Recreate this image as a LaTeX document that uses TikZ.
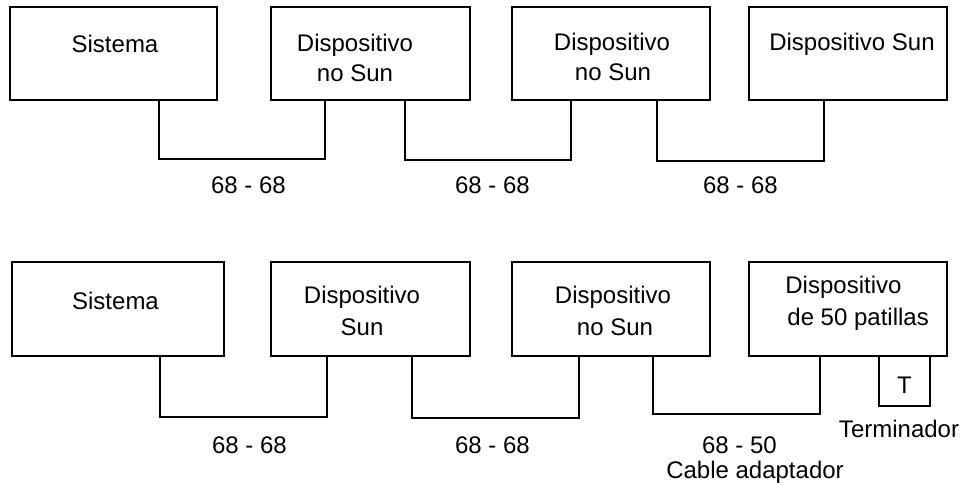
\documentclass[tikz,border=0pt]{standalone}
\usepackage{fontspec}
\setmainfont{Liberation Sans}
\begin{document}
\begin{tikzpicture}[x=0.5pt,y=-0.5pt,
  box/.style={draw,line width=0.75pt,rectangle,inner sep=0pt,outer sep=0pt,minimum height=46.5pt},
  lbl/.style={font=\fontsize{12}{14}\selectfont,inner sep=0pt,anchor=base},
  cable/.style={line width=0.75pt}]
\useasboundingbox (0,0) rectangle (973,486);
% top row boxes
\node[box,minimum width=103.5pt] (t1) at (113.5,53.5) {};
\node[box,minimum width=99.5pt] (t2) at (370.5,53.5) {};
\node[box,minimum width=99pt] (t3) at (611,53.5) {};
\node[box,minimum width=99pt] (t4) at (848,53.5) {};
% top row texts
\node[lbl] (t1a) at (115,53) {Sistema};
\node[lbl] (t2a) at (355,51.5) {Dispositivo};
\node[lbl] (t2b) at (355,81.5) {no Sun};
\node[lbl] (t3a) at (612,51) {Dispositivo};
\node[lbl] (t3b) at (613,81) {no Sun};
\node[lbl] (t4a) at (852,51) {Dispositivo Sun};
% top connectors
\coordinate (tx1) at (159,0);
\coordinate (tx2) at (325,0);
\coordinate (tx3) at (405,0);
\coordinate (tx4) at (571,0);
\coordinate (tx5) at (657,0);
\coordinate (tx6) at (824,0);
\draw[cable] (t1.south -| tx1) -- ++(0,59) -| (t2.south -| tx2);
\draw[cable] (t2.south -| tx3) -- ++(0,60) -| (t3.south -| tx4);
\draw[cable] (t3.south -| tx5) -- ++(0,61) -| (t4.south -| tx6);
\node[lbl] (tl1) at (248.5,193) {68 - 68};
\node[lbl] (tl2) at (492.5,193) {68 - 68};
\node[lbl] (tl3) at (740.5,193) {68 - 68};
% bottom row boxes
\node[box,minimum width=106pt,minimum height=47pt] (b1) at (118,309) {};
\node[box,minimum width=99.5pt,minimum height=47pt] (b2) at (370.5,309) {};
\node[box,minimum width=99pt,minimum height=47pt] (b3) at (611,309) {};
\node[box,minimum width=99pt,minimum height=47pt] (b4) at (848,309) {};
\node[box,minimum width=25.5pt,minimum height=25pt,anchor=north] (term) at (904.5,356) {};
% bottom texts
\node[lbl] (b1a) at (115.5,309) {Sistema};
\node[lbl] (b2a) at (362,303) {Dispositivo};
\node[lbl] (b2b) at (362,335) {Sun};
\node[lbl] (b3a) at (613,303) {Dispositivo};
\node[lbl] (b3b) at (615,335) {no Sun};
\node[lbl,anchor=base west] (b4a) at (785,293) {Dispositivo};
\node[lbl,anchor=base west] (b4b) at (787,325) {de 50 patillas};
\node[lbl] (tt) at (904.5,393) {T};
% bottom connectors
\coordinate (bx1) at (160,0);
\coordinate (bx2) at (327,0);
\coordinate (bx3) at (412,0);
\coordinate (bx4) at (579,0);
\coordinate (bx5) at (653,0);
\coordinate (bx6) at (820,0);
\draw[cable] (b1.south -| bx1) -- ++(0,61) -| (b2.south -| bx2);
\draw[cable] (b2.south -| bx3) -- ++(0,62) -| (b3.south -| bx4);
\draw[cable] (b3.south -| bx5) -- ++(0,58) -| (b4.south -| bx6);
\node[lbl] (bl1) at (249.5,453) {68 - 68};
\node[lbl] (bl2) at (492.5,453) {68 - 68};
\node[lbl] (bl3) at (739.5,453) {68 - 50};
\node[lbl] (bl4) at (755,478) {Cable adaptador};
\node[lbl] (tlab) at (899,437) {Terminador};
\end{tikzpicture}
\end{document}
